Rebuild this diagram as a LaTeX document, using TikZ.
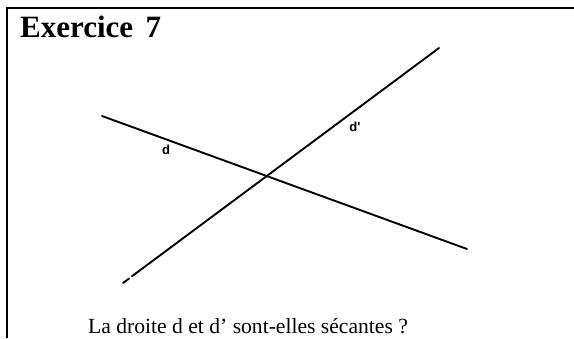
\documentclass[tikz,border=0pt]{standalone}
\usepackage{fontspec}
\setmainfont{Liberation Serif}
\newfontfamily\lblfont{Liberation Sans}
\begin{document}
\begin{tikzpicture}[x=1pt,y=-1pt,
  frame/.style={line width=2.2pt},
  droite/.style={line width=1.9pt,line cap=round},
  lbl/.style={inner sep=0pt,font=\lblfont\bfseries\fontsize{13}{15}\selectfont}]
\useasboundingbox (0,0) rectangle (574,338);
% frame
\coordinate (tl) at (7,8);
\coordinate (tr) at (574,8);
\coordinate (bl) at (7,338);
\draw[frame] (tr) -- (tl) -- (bl);
% title
\node[anchor=base west,inner sep=0pt,font=\fontsize{31}{36}\selectfont\bfseries] (title) at (20,37) {Exercice\hspace{0.4em}7};
% lines
\coordinate (dA) at (102,116);
\coordinate (dB) at (467,249);
\coordinate (pA) at (123,283);
\coordinate (pG) at (129,278.5);
\coordinate (pG2) at (132,276.2);
\coordinate (pB) at (439,48);
\draw[droite] (dA) -- (dB);
\draw[droite] (pA) -- (pG);
\draw[droite] (pG2) -- (pB);
% labels
\node[lbl] (ld) at (166,150) {d};
\node[lbl] (ldp) at (355,127) {d'};
% question
\node[anchor=base west,inner sep=0pt,font=\fontsize{21.6}{26}\selectfont] (q) at (88,333) {La droite d et d’ sont-elles sécantes ?};
\end{tikzpicture}
\end{document}
